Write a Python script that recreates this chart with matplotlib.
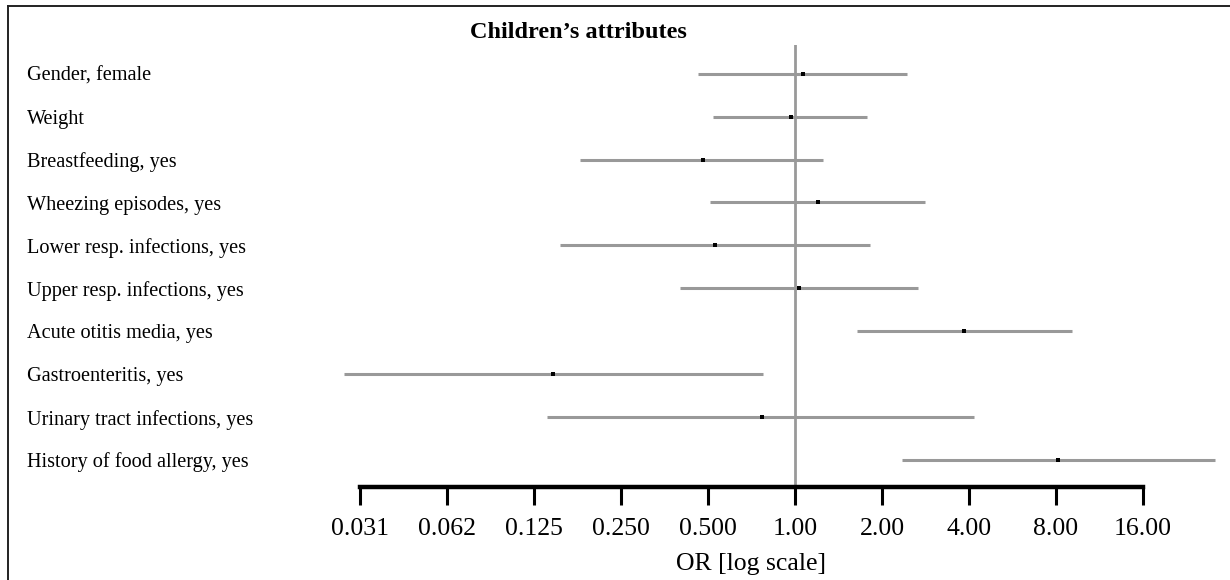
import matplotlib

matplotlib.use("Agg")
import matplotlib.pyplot as plt
import matplotlib.transforms as mtransforms
from matplotlib.lines import Line2D
from matplotlib.ticker import FixedLocator, FixedFormatter, NullLocator

plt.rcParams["font.family"] = ["Liberation Serif", "DejaVu Serif"]

# data (odds ratios with 95% CI)
labels = [
    "Gender, female",
    "Weight",
    "Breastfeeding, yes",
    "Wheezing episodes, yes",
    "Lower resp. infections, yes",
    "Upper resp. infections, yes",
    "Acute otitis media, yes",
    "Gastroenteritis, yes",
    "Urinary tract infections, yes",
    "History of food allergy, yes",
]
odds = [1.07, 0.97, 0.48, 1.20, 0.53, 1.03, 3.84, 0.145, 0.77, 8.1]
ci_low = [0.46, 0.52, 0.18, 0.51, 0.154, 0.40, 1.64, 0.0276, 0.139, 2.35]
ci_high = [2.44, 1.78, 1.25, 2.82, 1.82, 2.66, 9.1, 0.775, 4.16, 28.4]

tick_vals = [2.0 ** k for k in range(-5, 5)]
tick_labels = ["0.031", "0.062", "0.125", "0.250", "0.500",
               "1.00", "2.00", "4.00", "8.00", "16.00"]

W, H = 1230, 580
fig = plt.figure(figsize=(W / 100, H / 100), dpi=100)

# axes placed in pixel coordinates: x from 360 to 1143, y from 45 to 487
ax = fig.add_axes([360 / W, (H - 487) / H, (1143 - 360) / W, (487 - 45) / H])
ax.set_xscale("log", base=2)
ax.set_xlim(tick_vals[0], tick_vals[-1])
n = len(labels)
ax.set_ylim(-0.63, 9.67)

ys = [n - 1 - i for i in range(n)]
grey = "#999999"

ax.axvline(1.0, color=grey, lw=2, zorder=1)
for y, o, lo, hi in zip(ys, odds, ci_low, ci_high):
    ax.plot([lo, hi], [y, y], color=grey, lw=2.2, solid_capstyle="butt",
            clip_on=False, zorder=2)
    ax.plot([o], [y], marker="s", ms=2.4, color="black", mew=0,
            clip_on=False, zorder=3)

for side in ["top", "right", "left"]:
    ax.spines[side].set_visible(False)
ax.spines["bottom"].set_linewidth(3.2)
ax.spines["bottom"].set_bounds(tick_vals[0], tick_vals[-1])
ax.xaxis.set_major_locator(FixedLocator(tick_vals))
ax.xaxis.set_major_formatter(FixedFormatter(tick_labels))
ax.xaxis.set_minor_locator(NullLocator())
ax.tick_params(axis="x", length=13, width=2.2, labelsize=18.5, pad=9)
ax.set_yticks([])
ax.set_xlabel("OR [log scale]", fontsize=18.5, labelpad=10)

# row labels at fixed left position
trans = mtransforms.blended_transform_factory(fig.transFigure, ax.transData)
for y, lab in zip(ys, labels):
    ax.text(27 / W, y - 0.06, lab, transform=trans, ha="left", va="center",
            fontsize=14.6, clip_on=False)

fig.text(578 / W, 1 - 33 / H, "Children\u2019s attributes", ha="center",
         va="center", fontsize=17.5, fontweight="bold")

# frame: top and left edges are visible in the reference
fig.add_artist(Line2D([8 / W, 1.0], [1 - 6 / H, 1 - 6 / H], color="#222222", lw=1.4))
fig.add_artist(Line2D([8 / W, 8 / W], [0.0, 1 - 6 / H], color="#222222", lw=1.4))

fig.savefig("out.png", dpi=100)
